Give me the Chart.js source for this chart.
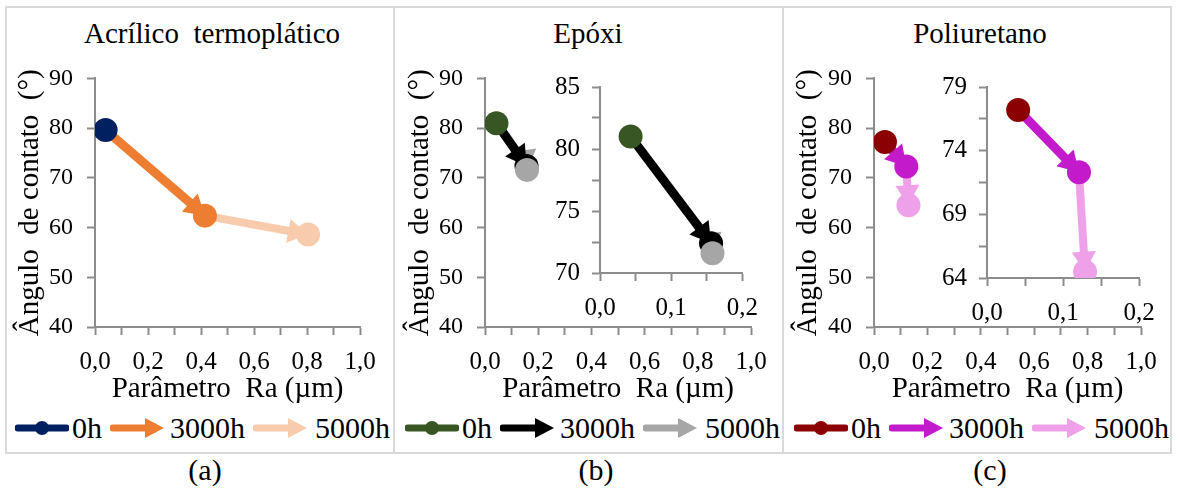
<!DOCTYPE html>
<html lang="pt">
<head>
<meta charset="utf-8">
<script src="https://cdn.jsdelivr.net/npm/chart.js@4.4.1/dist/chart.umd.min.js"></script>
<style>
  body { margin: 0; width: 1178px; height: 494px; background: #fff; position: relative; overflow: hidden;
         font-family: "Liberation Serif", "Times New Roman", serif; color: #000; }
  .caixa { position: absolute; top: 6px; height: 448px; border: 2px solid #d9d9d9; box-sizing: border-box; }
  canvas { position: absolute; }
  .titulo { position: absolute; top: 19px; font-size: 29px; line-height: 29px; white-space: pre; transform: translateX(-50%); }
  .rotulo { position: absolute; top: 455px; font-size: 30px; line-height: 30px; transform: translateX(-50%); }
  .leg { position: absolute; top: 413px; font-size: 30px; line-height: 30px; white-space: pre; }
  .leg svg { position: absolute; top: 3px; }
</style>
</head>
<body>
<div class="caixa" style="left:5px;width:390px"></div>
<div class="caixa" style="left:393px;width:391px"></div>
<div class="caixa" style="left:782px;width:390px"></div>

<div class="titulo" style="left:212px">Acrílico  termoplático</div>
<div class="titulo" style="left:588px">Epóxi</div>
<div class="titulo" style="left:980px">Poliuretano</div>

<canvas id="acr" width="388" height="360" style="left:6px;top:50px"></canvas>
<canvas id="epo" width="389" height="360" style="left:394px;top:50px"></canvas>
<canvas id="epoZoom" width="230" height="265" style="left:540px;top:60px"></canvas>
<canvas id="pul" width="388" height="360" style="left:783px;top:50px"></canvas>
<canvas id="pulZoom" width="240" height="270" style="left:927px;top:60px"></canvas>

<div id="legendas"></div>

<div class="rotulo" style="left:205px">(a)</div>
<div class="rotulo" style="left:596px">(b)</div>
<div class="rotulo" style="left:990px">(c)</div>

<script>
// tempos de exposição (legenda)
const tempos = ['0h', '3000h', '5000h'];

// Acrílico termoplástico: Ra (µm) x ângulo de contato (°)
const acrRa = [0.040, 0.415, 0.804];
const acrAng = [79.6, 62.4, 58.6];
const acrCores = ['#002060', '#ED7D31', '#F8CBAD'];

// Epóxi
const epoRa = [0.043, 0.156, 0.158];
const epoAng = [81.0, 72.4, 71.6];
const epoCores = ['#375623', '#000000', '#A6A6A6'];

// Poliuretano
const pulRa = [0.041, 0.121, 0.129];
const pulAng = [77.2, 72.3, 64.5];
const pulCores = ['#8B0000', '#C31BCB', '#EEA0E8'];

// faixas dos eixos [min, max, passo]
const eixoRa = [0, 1, 0.1];
const eixoAng = [40, 90, 10];
const zoomRa = [0, 0.2, 0.05];
const zoomEpoAng = [70, 85, 2.5];
const zoomPulAng = [64, 79, 2.5];

const FONTE = "'Liberation Serif', 'Times New Roman', serif";
const CINZA = '#8c8c8c';

// ponta de seta no fim de cada segmento (desenhada antes dos marcadores)
const setas = {
  id: 'setas',
  afterDatasetDraw(chart, args) {
    const ds = chart.data.datasets[args.index];
    if (!ds.seta) return;
    const pts = args.meta.data;
    const a = pts[pts.length - 2], b = pts[pts.length - 1];
    const dx = b.x - a.x, dy = b.y - a.y, d = Math.hypot(dx, dy) || 1;
    const ux = dx / d, uy = dy / d;
    const L = 20, W = 12;
    const bx = b.x - ux * L, by = b.y - uy * L;
    const ctx = chart.ctx;
    ctx.save();
    ctx.fillStyle = ds.borderColor;
    ctx.beginPath();
    ctx.moveTo(b.x, b.y);
    ctx.lineTo(bx - uy * W, by + ux * W);
    ctx.lineTo(bx + uy * W, by - ux * W);
    ctx.closePath();
    ctx.fill();
    ctx.restore();
  },
};

const virgula = (v, casas) => v.toFixed(casas).replace('.', ',');

function eixo(faixa, rotular, opts) {
  return {
    type: 'linear', min: faixa[0], max: faixa[1],
    border: { display: true, color: CINZA, width: 2 },
    grid: { display: true, drawOnChartArea: false, drawTicks: true, tickLength: 8, tickColor: CINZA, tickWidth: 2 },
    ticks: { stepSize: faixa[2], autoSkip: false, maxRotation: 0, color: '#000', font: { family: FONTE, size: opts.tam }, padding: opts.pad, callback: rotular },
    afterFit: opts.fit,
    title: opts.titulo || { display: false },
  };
}

// canvas (cl, ct, cw, ch) e área do gráfico (L, T, R, B) em px da página
function grafico(id, ra, ang, cores, cfg) {
  const { canvas: [cl, ct, cw, ch], area: [L, T, R, B] } = cfg;
  const pontos = ra.map((x, i) => ({ x, y: ang[i] }));
  const lh = 29 * 1.2;
  new Chart(document.getElementById(id), {
    type: 'scatter',
    data: {
      datasets: [
        { label: tempos[0], data: pontos, pointRadius: 12, pointHoverRadius: 12, pointBorderWidth: 0,
          pointBackgroundColor: cores, showLine: false },
        { label: tempos[1], data: pontos.slice(0, 2), showLine: true, borderColor: cores[1], borderWidth: 9,
          pointRadius: 0, seta: true },
        { label: tempos[2], data: pontos.slice(1, 3), showLine: true, borderColor: cores[2], borderWidth: 8,
          pointRadius: 0, seta: true },
      ],
    },
    options: {
      responsive: false, animation: false,
      layout: { padding: { left: 0, top: T - ct, right: cl + cw - R, bottom: 0 } },
      plugins: { legend: { display: false }, tooltip: { enabled: false } },
      scales: {
        x: eixo(cfg.x, cfg.rotX, {
          tam: 25, pad: 12, fit: s => { s.height = ct + ch - B; },
          titulo: cfg.principal ? { display: true, text: 'Parâmetro  Ra (µm)', color: '#000',
            font: { family: FONTE, size: 29 }, padding: { top: 0, bottom: ct + ch - 389 - lh / 2 } } : null,
        }),
        y: eixo(cfg.y, cfg.rotY, {
          tam: cfg.principal ? 24 : 25, pad: cfg.principal ? 14 : 12, fit: s => { s.width = L - cl; },
          titulo: cfg.principal ? { display: true, text: 'Ângulo  de contato  (°)', color: '#000',
            font: { family: FONTE, size: 29 }, padding: { top: cfg.tituloY - cl - lh / 2, bottom: 0 } } : null,
        }),
      },
    },
    plugins: [setas],
  });
}

const rotRa = v => (Math.round(v * 10) % 2 ? '' : virgula(v, 1));
const rotAng = v => String(v);
const rotRaZoom = v => (Math.round(v * 20) % 2 ? '' : virgula(v, 1));
const rotZoomY = min => v => (Math.round((v - min) / 2.5) % 2 ? '' : String(Math.round(v)));

grafico('acr', acrRa, acrAng, acrCores, {
  principal: true, canvas: [6, 50, 388, 360], area: [95, 77, 360, 327], tituloY: 30,
  x: eixoRa, y: eixoAng, rotX: rotRa, rotY: rotAng,
});
grafico('epo', epoRa, epoAng, epoCores, {
  principal: true, canvas: [394, 50, 389, 360], area: [485, 77, 751, 327], tituloY: 420,
  x: eixoRa, y: eixoAng, rotX: rotRa, rotY: rotAng,
});
grafico('epoZoom', epoRa, epoAng, epoCores, {
  canvas: [540, 60, 230, 265], area: [600, 77, 743, 273],
  x: zoomRa, y: zoomEpoAng, rotX: rotRaZoom, rotY: rotZoomY(zoomEpoAng[0]),
});
grafico('pul', pulRa, pulAng, pulCores, {
  principal: true, canvas: [783, 50, 388, 360], area: [874, 77, 1141, 327], tituloY: 808,
  x: eixoRa, y: eixoAng, rotX: rotRa, rotY: rotAng,
});
grafico('pulZoom', pulRa, pulAng, pulCores, {
  canvas: [927, 60, 240, 270], area: [987, 79, 1139, 278],
  x: zoomRa, y: zoomPulAng, rotX: rotRaZoom, rotY: rotZoomY(zoomPulAng[0]),
});

// legendas: linha com marcador (0h) e setas (3000h, 5000h)
function simbolo(tipo, cor) {
  const corpo = tipo === 'ponto'
    ? `<line x1="3" y1="12" x2="51" y2="12" stroke="${cor}" stroke-width="7" stroke-linecap="round"/><circle cx="27" cy="12" r="7" fill="${cor}"/>`
    : `<line x1="3" y1="12" x2="38" y2="12" stroke="${cor}" stroke-width="7" stroke-linecap="round"/><polygon points="35,2 54,12 35,22" fill="${cor}"/>`;
  return `<svg width="54" height="24" viewBox="0 0 54 24">${corpo}</svg>`;
}
const origens = [2, 392, 781];
const desloc = [[13, 70], [108, 168], [251, 313]];
const paletas = [acrCores, epoCores, pulCores];
const leg = document.getElementById('legendas');
origens.forEach((x0, p) => {
  tempos.forEach((t, i) => {
    const [xs, xt] = desloc[i];
    leg.insertAdjacentHTML('beforeend',
      `<div class="leg" style="left:${x0 + xs}px">${simbolo(i ? 'seta' : 'ponto', paletas[p][i])}</div>` +
      `<div class="leg" style="left:${x0 + xt}px">${t}</div>`);
  });
});
</script>
</body>
</html>
